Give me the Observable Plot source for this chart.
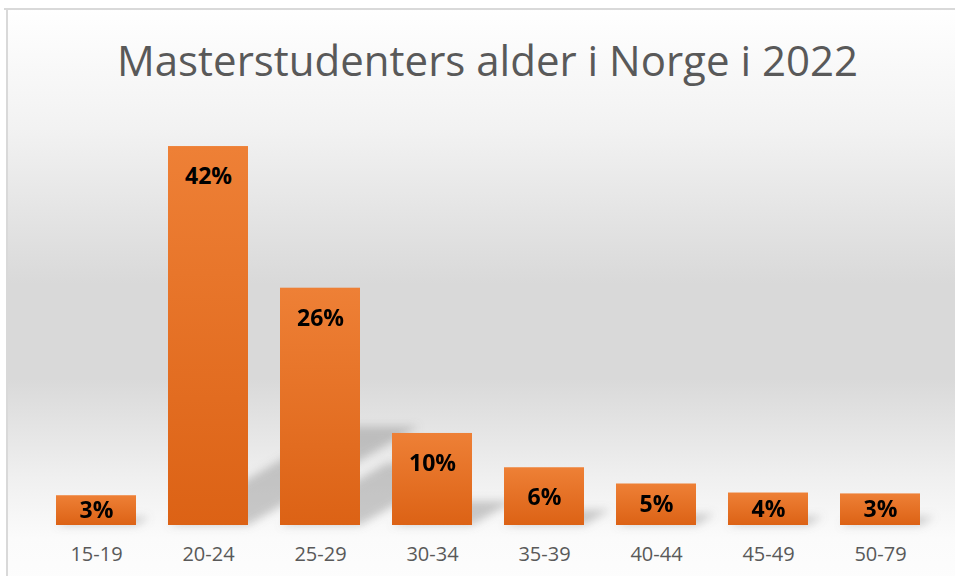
<!DOCTYPE html>
<html>
<head>
<meta charset="utf-8">
<script src="https://cdn.jsdelivr.net/npm/d3@7"></script>
<script src="https://cdn.jsdelivr.net/npm/@observablehq/plot@0.6"></script>
<style>
  html, body { margin: 0; padding: 0; width: 955px; height: 576px; overflow: hidden; background: #ffffff; }
  #bg { position: absolute; left: 7px; top: 9px; width: 960px; height: 580px;
        background: linear-gradient(to bottom, #ffffff 0px, #f2f2f2 120px, #d9d9d9 275px, #d9d9d9 370px, #f0f0f0 470px, #fbfbfb 530px, #fdfdfd 580px); }
  #topline { position: absolute; left: 4px; top: 8px; width: 960px; height: 2px; background: #d9d9d9; }
  #leftline { position: absolute; left: 6px; top: 8px; width: 2px; height: 580px; background: #d9d9d9; }
  #title { position: absolute; left: 10px; top: 31px; width: 955px; text-align: center;
           font-family: "Open Sans", sans-serif; font-size: 42px; color: #595959; line-height: normal; white-space: nowrap; }
  #chart { position: absolute; left: 0; top: 120px; }
</style>
</head>
<body>
<div id="bg"></div>
<div id="topline"></div>
<div id="leftline"></div>
<div id="title">Masterstudenters alder i Norge i 2022</div>
<div id="chart"></div>
<script>
const categories = ["15-19", "20-24", "25-29", "30-34", "35-39", "40-44", "45-49", "50-79"];
const shares = [3.3, 42.0, 26.3, 10.2, 6.4, 4.6, 3.6, 3.5];
const shareLabels = ["3%", "42%", "26%", "10%", "6%", "5%", "4%", "3%"];

const data = categories.map((c, i) => ({cat: c, v: shares[i], label: shareLabels[i]}));

const chart = Plot.plot({
  width: 955,
  height: 456,
  marginLeft: 37,
  marginRight: 16,
  marginTop: 8,
  marginBottom: 51,
  style: {background: "transparent", fontFamily: "Open Sans, sans-serif", fontSize: "20px", color: "#595959", overflow: "visible"},
  x: {domain: categories, paddingInner: 0.283, paddingOuter: 0.14, label: null, tickSize: 0, tickPadding: 21},
  y: {domain: [0, 44], axis: null},
  marks: [
    Plot.barY(data, {x: "cat", y: "v", fill: "#e8722a"}),
    Plot.text(data.filter(d => d.v >= 6), {x: "cat", y: "v", text: "label", dy: 30, fill: "#000",
      fontWeight: "bold", fontSize: 23, lineAnchor: "middle"}),
    Plot.text(data.filter(d => d.v < 6), {x: "cat", y: d => d.v / 2, text: "label", fill: "#000",
      fontWeight: "bold", fontSize: 23, lineAnchor: "middle"})
  ]
});
document.getElementById("chart").appendChild(chart);

// gradient + perspective shadow derived from the rendered bars
const svg = d3.select(chart);
const defs = svg.insert("defs", ":first-child");
const g = defs.append("linearGradient").attr("id", "barGrad").attr("x1", 0).attr("y1", 0).attr("x2", 0).attr("y2", 1);
g.append("stop").attr("offset", "0%").attr("stop-color", "#ee8036");
g.append("stop").attr("offset", "100%").attr("stop-color", "#dc6215");
const f = defs.append("filter").attr("id", "shBlur").attr("x", "-50%").attr("y", "-50%").attr("width", "200%").attr("height", "200%");
f.append("feGaussianBlur").attr("stdDeviation", 4);

const barG = svg.select('g[aria-label="bar"]');
barG.selectAll("rect").attr("fill", "url(#barGrad)");
const rects = barG.selectAll("rect").nodes();
const y0 = d3.max(rects, r => +r.getAttribute("y") + +r.getAttribute("height"));
const shadowG = document.createElementNS("http://www.w3.org/2000/svg", "g");
shadowG.setAttribute("filter", "url(#shBlur)");
shadowG.setAttribute("fill-opacity", "0.4");
for (const r of rects) {
  const c = r.cloneNode(true);
  c.setAttribute("fill", "#808080");
  c.setAttribute("transform", `translate(0,${y0}) skewX(-60) scale(1,0.26) translate(0,${-y0})`);
  shadowG.appendChild(c);
}
barG.node().parentNode.insertBefore(shadowG, barG.node());
</script>
</body>
</html>
